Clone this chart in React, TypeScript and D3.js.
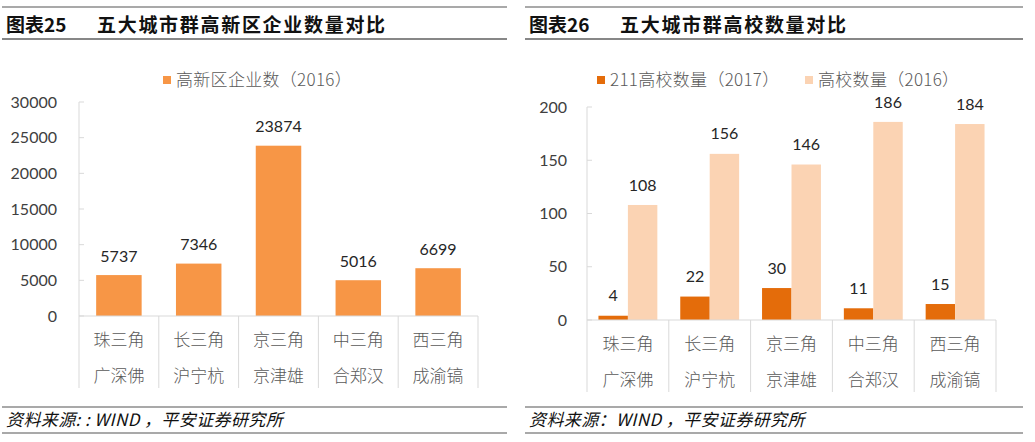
import React from 'react'
import * as d3 from 'd3'

// categories (two-line labels)
const regions = ['珠三角', '长三角', '京三角', '中三角', '西三角']
const cities = ['广深佛', '沪宁杭', '京津雄', '合郑汉', '成渝镐']

// chart 25
const hiTechFirms = [5737, 7346, 23874, 5016, 6699]
const leftTicks = [0, 5000, 10000, 15000, 20000, 25000, 30000]

// chart 26
const univ211 = [4, 22, 30, 11, 15]
const univAll = [108, 156, 146, 186, 184]
const rightTicks = [0, 50, 100, 150, 200]

const ORANGE = '#F79646'
const DARK = '#E46C0A'
const LIGHT = '#FBD3B3'
const GRID = '#D9D9D9'
const AXIS_TXT = '#404040'
const CAT_TXT = '#595959'
const NUM_FONT = 'Lato, "Open Sans", sans-serif'
const CJK_FONT = '"Noto Sans CJK SC", sans-serif'

function Header({ x0, x1, label, title, titleX }) {
  return (
    <g>
      <line x1={x0} x2={x1} y1={7} y2={7} stroke="#555" strokeWidth={1.2} />
      <text x={x0 + 4} y={32} fontFamily={CJK_FONT} fontWeight={700} fontSize={19} fill="#111">{label}</text>
      <text x={titleX} y={32} fontFamily={CJK_FONT} fontWeight={700} fontSize={19} letterSpacing={1.7} fill="#111">{title}</text>
      <line x1={x0} x2={x1} y1={39} y2={39} stroke="#111" strokeWidth={1.2} />
    </g>
  )
}

function Footer({ x0, x1, text }) {
  return (
    <g>
      <line x1={x0} x2={x1} y1={407} y2={407} stroke="#555" strokeWidth={1.2} />
      <text x={x0 + 4} y={426} fontFamily={CJK_FONT} fontStyle="italic" fontSize={17} letterSpacing={0.4} fill="#111">{text}</text>
      <line x1={x0} x2={x1} y1={433} y2={433} stroke="#555" strokeWidth={1.2} />
    </g>
  )
}

function CategoryAxis({ x, y0 }) {
  const step = x.step()
  const left = x.range()[0]
  return (
    <g>
      <line x1={left} x2={x.range()[1]} y1={y0} y2={y0} stroke={GRID} />
      {d3.range(regions.length + 1).map(i => (
        <line key={i} x1={left + i * step} x2={left + i * step} y1={y0} y2={y0 + 72} stroke={GRID} />
      ))}
      {regions.map((r, i) => {
        const cx = x(r) + x.bandwidth() / 2
        return (
          <g key={r} fontFamily={CJK_FONT} fontWeight={300} fontSize={17} fill={CAT_TXT} textAnchor="middle">
            <text x={cx} y={y0 + 30}>{r}</text>
            <text x={cx} y={y0 + 66}>{cities[i]}</text>
          </g>
        )
      })}
    </g>
  )
}

function ValueAxis({ y, ticks, x0, labelX }) {
  return (
    <g>
      <line x1={x0} x2={x0} y1={y.range()[1]} y2={y.range()[0]} stroke={GRID} />
      {ticks.map(t => (
        <g key={t}>
          <line x1={x0} x2={x0 + 5} y1={y(t)} y2={y(t)} stroke={GRID} />
          <text x={labelX} y={y(t)} dy="0.35em" textAnchor="end" fontFamily={NUM_FONT} fontSize={16} fill={AXIS_TXT}>{t}</text>
        </g>
      ))}
    </g>
  )
}

function LeftChart() {
  const x = d3.scaleBand().domain(regions).range([79, 478]).paddingInner(0).paddingOuter(0)
  const y = d3.scaleLinear().domain([0, 30000]).range([316, 102])
  const bw = x.bandwidth() * 0.57
  return (
    <g>
      <Header x0={2} x1={507} label="图表25" title="五大城市群高新区企业数量对比" titleX={97} />
      <rect x={163} y={76} width={8} height={8} fill={ORANGE} />
      <text x={176} y={80} dy="0.38em" fontFamily={CJK_FONT} fontWeight={300} fontSize={17} letterSpacing={0.3} fill={CAT_TXT}>高新区企业数（2016）</text>
      <ValueAxis y={y} ticks={leftTicks} x0={79} labelX={57} />
      {regions.map((r, i) => {
        const cx = x(r) + x.bandwidth() / 2
        return (
          <g key={r}>
            <rect x={cx - bw / 2} y={y(hiTechFirms[i])} width={bw} height={y(0) - y(hiTechFirms[i])} fill={ORANGE} />
            <text x={cx} y={y(hiTechFirms[i]) - 19} dy="0.35em" textAnchor="middle" fontFamily={NUM_FONT} fontSize={16} fill="#262626">{hiTechFirms[i]}</text>
          </g>
        )
      })}
      <CategoryAxis x={x} y0={316} />
      <Footer x0={2} x1={507} text="资料来源: : WIND ，平安证券研究所" />
    </g>
  )
}

function RightChart() {
  const x = d3.scaleBand().domain(regions).range([587, 996]).paddingInner(0).paddingOuter(0)
  const y = d3.scaleLinear().domain([0, 200]).range([320, 107])
  const bw = x.bandwidth() * 0.36
  return (
    <g>
      <Header x0={525} x1={1023} label="图表26" title="五大城市群高校数量对比" titleX={620} />
      <rect x={597} y={76} width={8} height={8} fill={DARK} />
      <text x={610} y={80} dy="0.38em" fontFamily={CJK_FONT} fontWeight={300} fontSize={17} letterSpacing={0.3} fill={CAT_TXT}>211高校数量（2017）</text>
      <rect x={805} y={76} width={8} height={8} fill={LIGHT} />
      <text x={818} y={80} dy="0.38em" fontFamily={CJK_FONT} fontWeight={300} fontSize={17} letterSpacing={0.3} fill={CAT_TXT}>高校数量（2016）</text>
      <ValueAxis y={y} ticks={rightTicks} x0={587} labelX={567} />
      {regions.map((r, i) => {
        const cx = x(r) + x.bandwidth() / 2
        return (
          <g key={r}>
            <rect x={cx - bw} y={y(univ211[i])} width={bw} height={y(0) - y(univ211[i])} fill={DARK} />
            <rect x={cx} y={y(univAll[i])} width={bw} height={y(0) - y(univAll[i])} fill={LIGHT} />
            <text x={cx - bw / 2} y={y(univ211[i]) - 20} dy="0.35em" textAnchor="middle" fontFamily={NUM_FONT} fontSize={16} fill="#262626">{univ211[i]}</text>
            <text x={cx + bw / 2} y={y(univAll[i]) - 20} dy="0.35em" textAnchor="middle" fontFamily={NUM_FONT} fontSize={16} fill="#262626">{univAll[i]}</text>
          </g>
        )
      })}
      <CategoryAxis x={x} y0={320} />
      <Footer x0={525} x1={1023} text="资料来源：WIND ，平安证券研究所" />
    </g>
  )
}

export default function App() {
  return (
    <svg width={1035} height={442} style={{ position: 'absolute', left: 0, top: 0, background: '#fff' }}>
      <rect width={1035} height={442} fill="#fff" />
      <LeftChart />
      <RightChart />
    </svg>
  )
}
